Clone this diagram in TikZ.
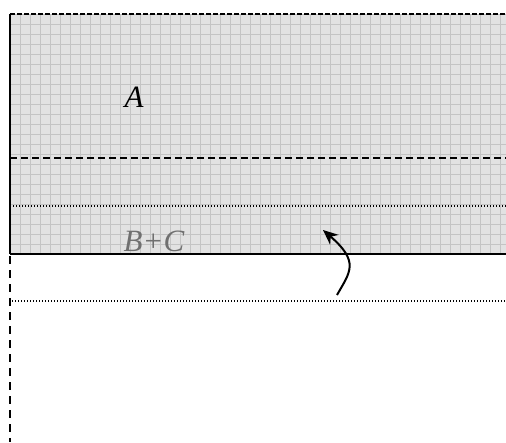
\documentclass[tikz,border=0pt]{standalone}
\usepackage{fontspec}
\setmainfont{Liberation Serif}
\usetikzlibrary{arrows.meta}
\definecolor{fillgray}{HTML}{E2E2E2}
\definecolor{gridgray}{HTML}{C4C4C4}
\definecolor{labelgray}{HTML}{707070}
\tikzset{
  lbl/.style={font=\fontsize{31}{31}\selectfont\itshape, inner sep=0pt},
  dotline/.style={line width=1.4pt, dash pattern=on 1.2pt off 1.8pt},
  dashline/.style={line width=1.8pt, dash pattern=on 7pt off 4pt},
}
\begin{document}
\begin{tikzpicture}[x=1pt,y=-1pt]
\useasboundingbox (0,0) rectangle (506,442);
% shaded region
\fill[fillgray] (10,14) rectangle (506,254);
\begin{scope}
\clip (10,14) rectangle (506,254);
\foreach \i in {0,...,50} {\draw[gridgray, line width=0.7pt] (10+10*\i,14) -- (10+10*\i,254);}
\foreach \j in {0,...,24} {\draw[gridgray, line width=0.7pt] (10,14+10*\j) -- (506,14+10*\j);}
\end{scope}
% borders
\draw[line width=2pt, dash pattern=on 5pt off 2pt] (10,14) -- (506,14);
\draw[line width=2pt] (10,14) -- (10,254);
\draw[line width=2.2pt] (10,254) -- (506,254);
\draw[dashline] (10,158) -- (506,158);
\draw[dotline] (10,206) -- (506,206);
\draw[dotline] (12,301) -- (506,301);
\draw[line width=2pt, dash pattern=on 8pt off 6pt] (10,256) -- (10,442);
% labels
\node[lbl] (A) at (134,97) {A};
\node[lbl, text=labelgray, anchor=base] (BC) at (154,251) {B+C};
% arrow
\coordinate (s) at (337,295);
\coordinate (t) at (323,230);
\draw[line width=2pt, -{Stealth[length=15pt,width=13pt]}] (s) .. controls (350,272) and (360,262) .. (t);
\end{tikzpicture}
\end{document}
